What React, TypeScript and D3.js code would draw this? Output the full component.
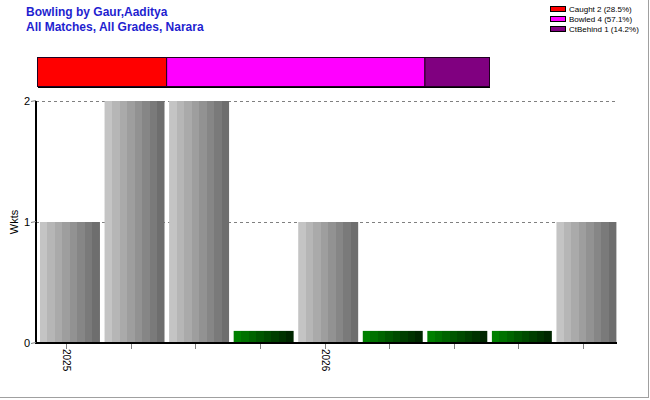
import * as d3 from 'd3';
import { useEffect, useRef } from 'react';

// one bar per match, labelled only where the season changes
const matchLabels = ['2025', '', '', '', '2026', '', '', '', ''];
const wickets = [1, 2, 2, 0, 1, 0, 0, 0, 1];

// dismissal breakdown
const dismissalTypes = ['Caught', 'Bowled', 'CtBehind'];
const dismissalCounts = [2, 4, 1];
const dismissalColors = ['#ff0000', '#ff00ff', '#800080'];

const yTicks = [0, 1, 2];

const greyShades = ['#c4c4c4', '#b6b6b6', '#aaaaaa', '#9e9e9e', '#929292', '#868686', '#7a7a7a', '#6e6e6e'];
const greenShades = ['#008000', '#007200', '#006400', '#005600', '#004a00', '#003e00', '#003200', '#002600'];

export default function App() {
  const ref = useRef<SVGSVGElement | null>(null);

  useEffect(() => {
    if (!ref.current) return;
    const svg = d3.select(ref.current);
    svg.selectAll('*').remove();

    const W = 650;
    const H = 400;
    const left = 36;
    const right = 617;
    const top = 101;
    const bottom = 343;

    // frame edges
    svg.append('line').attr('x1', 648.5).attr('x2', 648.5).attr('y1', 0).attr('y2', 398)
      .attr('stroke', '#a0a0a0');
    svg.append('line').attr('x1', 0).attr('x2', 649).attr('y1', 397.5).attr('y2', 397.5)
      .attr('stroke', '#a0a0a0');

    const defs = svg.append('defs');
    const stepped = (id: string, shades: string[]) => {
      const g = defs.append('linearGradient').attr('id', id)
        .attr('x1', '0%').attr('x2', '100%').attr('y1', '0%').attr('y2', '0%');
      shades.forEach((c, i) => {
        g.append('stop').attr('offset', `${(i / shades.length) * 100}%`).attr('stop-color', c);
        g.append('stop').attr('offset', `${((i + 1) / shades.length) * 100}%`).attr('stop-color', c);
      });
    };
    stepped('grey', greyShades);
    stepped('green', greenShades);

    // titles
    const title = svg.append('g').attr('font-family', 'Arial, Liberation Sans, sans-serif')
      .attr('font-weight', 'bold').attr('font-size', 12).attr('fill', '#1f1fd0');
    title.append('text').attr('x', 26).attr('y', 16).text('Bowling by Gaur,Aaditya');
    title.append('text').attr('x', 26).attr('y', 31).text('All Matches, All Grades, Narara');

    // legend
    const total = d3.sum(dismissalCounts);
    const legend = svg.append('g').attr('font-family', 'Arial, Liberation Sans, sans-serif')
      .attr('font-size', 8).attr('fill', '#000');
    dismissalTypes.forEach((t, i) => {
      const pct = Math.floor((dismissalCounts[i] / total) * 1000) / 10;
      legend.append('rect').attr('x', 550.5).attr('y', 6.5 + i * 10).attr('width', 15).attr('height', 5)
        .attr('fill', dismissalColors[i]).attr('stroke', '#000');
      legend.append('text').attr('x', 569).attr('y', 12 + i * 10)
        .text(`${t} ${dismissalCounts[i]} (${pct}%)`);
    });

    // stacked dismissal bar
    const sx = d3.scaleLinear().domain([0, total]).range([37, 489]);
    const cum = d3.cumsum(dismissalCounts);
    svg.append('rect').attr('x', 38).attr('y', 58).attr('width', 452).attr('height', 30).attr('fill', '#000');
    dismissalCounts.forEach((c, i) => {
      const x0 = sx(cum[i] - c);
      const x1 = sx(cum[i]);
      svg.append('rect').attr('x', x0 + 0.5).attr('y', 57.5).attr('width', x1 - x0).attr('height', 29)
        .attr('fill', dismissalColors[i]).attr('stroke', '#200020');
    });

    // scales
    const x = d3.scaleBand<number>().domain(d3.range(wickets.length)).range([left, right]).padding(0);
    const y = d3.scaleLinear().domain([0, 2]).range([bottom, top]);

    // grid
    svg.append('g').selectAll('line').data(yTicks.filter((t) => t > 0)).join('line')
      .attr('x1', left).attr('x2', right)
      .attr('y1', (d) => Math.round(y(d)) + 0.5).attr('y2', (d) => Math.round(y(d)) + 0.5)
      .attr('stroke', '#808080').attr('stroke-dasharray', '3,3');

    // bars
    const zeroHeight = 0.1;
    svg.append('g').selectAll('rect').data(wickets).join('rect')
      .attr('x', (_, i) => x(i)! + 4)
      .attr('width', x.bandwidth() - 4.6)
      .attr('y', (d) => y(d === 0 ? zeroHeight : d))
      .attr('height', (d) => bottom - y(d === 0 ? zeroHeight : d))
      .attr('fill', (d) => (d === 0 ? 'url(#green)' : 'url(#grey)'));

    const font = 'Arial, Liberation Sans, sans-serif';

    // y axis
    svg.append('line').attr('x1', left).attr('x2', left).attr('y1', top).attr('y2', bottom + 1)
      .attr('stroke', '#000').attr('stroke-width', 2);
    const yAxis = svg.append('g').attr('font-family', font).attr('font-size', 11);
    yTicks.forEach((t) => {
      yAxis.append('line').attr('x1', left - 5).attr('x2', left).attr('y1', y(t) + 0.5).attr('y2', y(t) - 0.5)
        .attr('stroke', '#808080');
      yAxis.append('text').attr('x', 30).attr('y', y(t)).attr('dy', '0.35em')
        .attr('text-anchor', 'end').text(String(t));
    });
    svg.append('text').attr('font-family', font).attr('font-size', 11)
      .attr('transform', `translate(18,${(top + bottom) / 2}) rotate(-90)`)
      .attr('text-anchor', 'middle').text('Wkts');

    // x axis
    svg.append('line').attr('x1', left).attr('x2', right).attr('y1', bottom).attr('y2', bottom)
      .attr('stroke', '#000').attr('stroke-width', 2);
    const xAxis = svg.append('g').attr('font-family', font).attr('font-size', 10);
    matchLabels.forEach((lab, i) => {
      const cx = Math.round(x(i)! + x.bandwidth() / 2) - 1.5;
      xAxis.append('line').attr('x1', cx).attr('x2', cx).attr('y1', bottom + 1).attr('y2', bottom + 6)
        .attr('stroke', '#808080');
      if (lab) {
        xAxis.append('text').attr('transform', `translate(${cx},${bottom + 6}) rotate(90)`)
          .attr('dy', '0.35em').text(lab);
      }
    });

    svg.attr('width', W).attr('height', H);
  }, []);

  return <svg ref={ref} width={650} height={400} style={{ position: 'absolute', left: 0, top: 0, background: '#fff' }} />;
}
